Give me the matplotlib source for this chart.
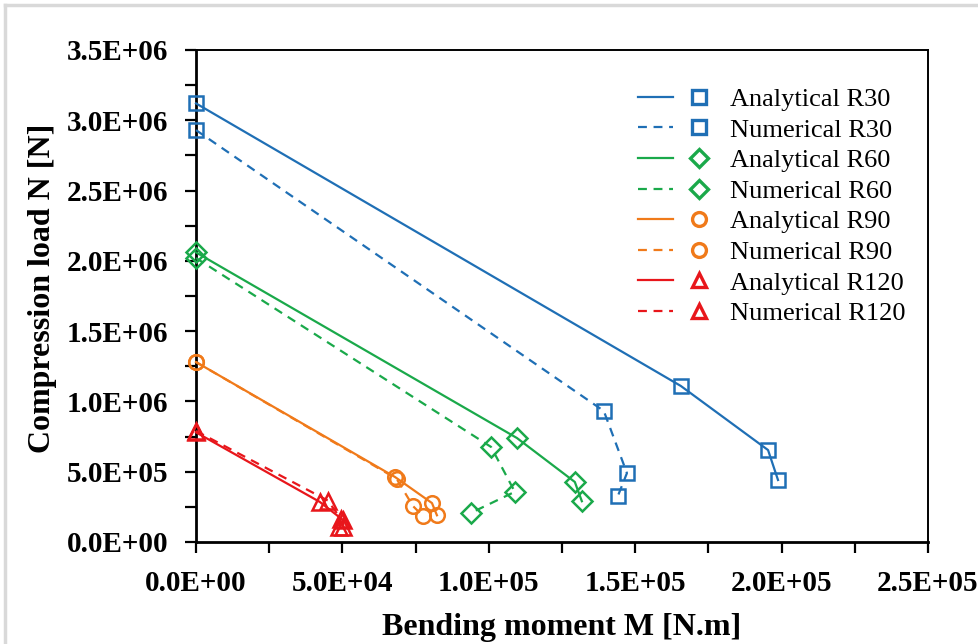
import matplotlib
matplotlib.use("Agg")
import matplotlib.pyplot as plt
from matplotlib.lines import Line2D
from matplotlib.legend_handler import HandlerTuple
from matplotlib.ticker import MultipleLocator, FuncFormatter

# Interaction diagram data: bending moment M [N.m] vs compression load N [N]
m_ana_r30 = [0, 165.6e3, 195.4e3, 198.8e3]
n_ana_r30 = [3.12e6, 1.11e6, 0.654e6, 0.441e6]
m_num_r30 = [0, 139.3e3, 147.2e3, 144.1e3]
n_num_r30 = [2.93e6, 0.932e6, 0.49e6, 0.327e6]

m_ana_r60 = [0, 109.6e3, 129.4e3, 131.8e3]
n_ana_r60 = [2.06e6, 0.74e6, 0.427e6, 0.29e6]
m_num_r60 = [0, 100.8e3, 108.9e3, 93.9e3]
n_num_r60 = [2.02e6, 0.676e6, 0.357e6, 0.207e6]

m_ana_r90 = [0, 68.0e3, 80.6e3, 82.3e3]
n_ana_r90 = [1.28e6, 0.462e6, 0.277e6, 0.19e6]
m_num_r90 = [0, 68.5e3, 74.1e3, 77.5e3]
n_num_r90 = [1.28e6, 0.45e6, 0.256e6, 0.185e6]

m_ana_r120 = [0, 42.3e3, 50.3e3, 50.3e3]
n_ana_r120 = [0.78e6, 0.285e6, 0.155e6, 0.11e6]
m_num_r120 = [0, 45.0e3, 49.5e3, 48.8e3]
n_num_r120 = [0.79e6, 0.295e6, 0.165e6, 0.11e6]

series = [
    ("Analytical R30", m_ana_r30, n_ana_r30, "#1f6fb5", "s", "-"),
    ("Numerical R30", m_num_r30, n_num_r30, "#1f6fb5", "s", "--"),
    ("Analytical R60", m_ana_r60, n_ana_r60, "#1aa94a", "D", "-"),
    ("Numerical R60", m_num_r60, n_num_r60, "#1aa94a", "D", "--"),
    ("Analytical R90", m_ana_r90, n_ana_r90, "#f07a1a", "o", "-"),
    ("Numerical R90", m_num_r90, n_num_r90, "#f07a1a", "o", "--"),
    ("Analytical R120", m_ana_r120, n_ana_r120, "#e8161b", "^", "-"),
    ("Numerical R120", m_num_r120, n_num_r120, "#e8161b", "^", "--"),
]

plt.rcParams["font.family"] = ["Liberation Serif", "DejaVu Serif"]

fig = plt.figure(figsize=(9.79, 6.44), dpi=100)
ax = fig.add_axes([0.2002, 0.1584, 0.7476, 0.764])

# light frame around the figure
fig.add_artist(Line2D([0.005, 1.0], [0.992, 0.992], transform=fig.transFigure,
                      color="#d9d9d9", lw=2.5))
fig.add_artist(Line2D([0.005, 0.005], [0.0, 0.992], transform=fig.transFigure,
                      color="#d9d9d9", lw=2.5))

msize = {"s": 10.5, "D": 10.0, "o": 10.5, "^": 11.0}
handles = []
labels = []
for label, m, n, color, marker, ls in series:
    dashes = (0, (4, 3)) if ls == "--" else "-"
    ax.plot(m, n, linestyle=dashes, color=color, lw=1.6, marker=marker,
            markersize=msize[marker], markerfacecolor="none",
            markeredgecolor=color, markeredgewidth=1.8, zorder=3,
            clip_on=False)
    line_h = Line2D([], [], linestyle=dashes, color=color, lw=1.6)
    mark_h = Line2D([], [], linestyle="none", marker=marker,
                    markersize=msize[marker] * 0.95, markerfacecolor="none",
                    markeredgecolor=color, markeredgewidth=2.4)
    handles.append((line_h, mark_h))
    labels.append(label)

ax.set_xlim(0, 2.5e5)
ax.set_ylim(0, 3.5e6)

ax.xaxis.set_major_locator(MultipleLocator(5e4))
ax.xaxis.set_minor_locator(MultipleLocator(2.5e4))
ax.yaxis.set_major_locator(MultipleLocator(5e5))
ax.yaxis.set_minor_locator(MultipleLocator(2.5e5))


def sci_fmt(v, pos):
    return "%.1E" % v


ax.xaxis.set_major_formatter(FuncFormatter(sci_fmt))
ax.yaxis.set_major_formatter(FuncFormatter(sci_fmt))

ax.tick_params(which="both", direction="out", length=8, width=1.6,
               color="black")
ax.tick_params(axis="x", which="major", pad=12)
ax.tick_params(axis="y", which="major", pad=12)
for lab in ax.get_xticklabels() + ax.get_yticklabels():
    lab.set_fontsize(21)
    lab.set_fontweight("bold")

for side in ["left", "bottom"]:
    ax.spines[side].set_linewidth(2.0)
for side in ["top", "right"]:
    ax.spines[side].set_linewidth(1.4)

ax.set_xlabel("Bending moment M [N.m]", fontsize=23, fontweight="bold",
              labelpad=12)
ax.set_ylabel("Compression load N [N]", fontsize=23, fontweight="bold")
ax.yaxis.set_label_coords(-0.19, 0.516)

leg = ax.legend(handles, labels,
                handler_map={tuple: HandlerTuple(ndivide=2, pad=0.3)},
                loc="upper left", bbox_to_anchor=(0.589, 0.945),
                frameon=False, fontsize=19, handlelength=3.0,
                handletextpad=0.5, labelspacing=0.27, borderaxespad=0)

fig.savefig("out.png", dpi=100)
